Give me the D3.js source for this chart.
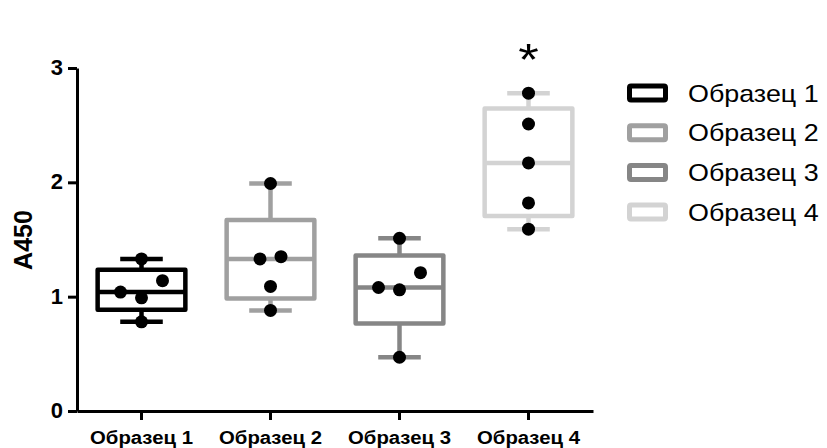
<!DOCTYPE html>
<html>
<head>
<meta charset="utf-8">
<script src="https://cdn.jsdelivr.net/npm/d3@7"></script>
<style>
  body { margin: 0; background: #fff; }
  text { font-family: "Liberation Sans", Arial, sans-serif; }
</style>
</head>
<body>
<div id="chart"></div>
<script>
const categories = ['Образец 1', 'Образец 2', 'Образец 3', 'Образец 4'];
const sample1 = [1.33, 1.04, 0.99, 1.14, 0.78];
const sample2 = [1.99, 1.33, 1.35, 1.09, 0.88];
const sample3 = [1.51, 1.08, 1.06, 1.21, 0.47];
const sample4 = [2.78, 2.51, 2.17, 1.82, 1.59];
const yTicks = [0, 1, 2, 3];
const significant = [false, false, false, true];
const colors = ['#000000', '#a0a0a0', '#868686', '#d3d3d3'];

const series = [sample1, sample2, sample3, sample4];

const width = 827;
const height = 448;
const margin = { top: 68, right: 234, bottom: 37, left: 77 };

const svg = d3.select('#chart')
  .append('svg')
  .attr('width', width)
  .attr('height', height);

const x = d3.scaleBand()
  .domain(categories)
  .range([margin.left, width - margin.right]);

const y = d3.scaleLinear()
  .domain([0, 3])
  .range([height - margin.bottom, margin.top]);

// quartiles the way Prism does it: position (n + 1) * p
function quart(values, p) {
  const s = values.slice().sort(d3.ascending);
  const pos = (s.length + 1) * p - 1;
  const lo = Math.floor(pos);
  const hi = Math.ceil(pos);
  return s[lo] + (s[hi] - s[lo]) * (pos - lo);
}

const stats = series.map((vals, i) => ({
  name: categories[i],
  color: colors[i],
  min: d3.min(vals),
  q1: quart(vals, 0.25),
  median: quart(vals, 0.5),
  q3: quart(vals, 0.75),
  max: d3.max(vals),
  vals,
}));

const boxW = x.bandwidth() * 0.68;
const capW = x.bandwidth() * 0.33;
const r = 6.5;
const slot = 21;

// spread points that sit close together, like a scatter dot plot
function spread(vals) {
  const s = vals.slice().sort(d3.ascending);
  const groups = [];
  s.forEach((v, i) => {
    if (i > 0 && y(s[i - 1]) - y(v) < 20) groups[groups.length - 1].push(v);
    else groups.push([v]);
  });
  const out = [];
  groups.forEach(g => {
    const n = g.length;
    const offs = d3.range(n).map(k => k - (n - 1) / 2)
      .sort((a, b) => Math.abs(a) - Math.abs(b) || a - b);
    g.forEach((v, k) => out.push({ v, dx: offs[k] * slot }));
  });
  return out;
}

const boxes = svg.selectAll('g.box')
  .data(stats)
  .enter().append('g')
  .attr('class', 'box')
  .attr('transform', d => `translate(${x(d.name) + x.bandwidth() / 2},0)`)
  .style('stroke', d => d.color)
  .style('stroke-width', 4.5)
  .style('stroke-linejoin', 'round')
  .style('fill', 'none');

boxes.append('line')
  .attr('y1', d => y(d.max)).attr('y2', d => y(d.q3));
boxes.append('line')
  .attr('y1', d => y(d.q1)).attr('y2', d => y(d.min));
boxes.append('line')
  .attr('x1', -capW / 2).attr('x2', capW / 2)
  .attr('y1', d => y(d.max)).attr('y2', d => y(d.max));
boxes.append('line')
  .attr('x1', -capW / 2).attr('x2', capW / 2)
  .attr('y1', d => y(d.min)).attr('y2', d => y(d.min));
boxes.append('rect')
  .attr('x', -boxW / 2)
  .attr('width', boxW)
  .attr('y', d => y(d.q3))
  .attr('height', d => y(d.q1) - y(d.q3));
boxes.append('line')
  .attr('x1', -boxW / 2).attr('x2', boxW / 2)
  .attr('y1', d => y(d.median)).attr('y2', d => y(d.median));

boxes.selectAll('circle')
  .data(d => spread(d.vals))
  .enter().append('circle')
  .attr('cx', d => d.dx)
  .attr('cy', d => y(d.v))
  .attr('r', r)
  .style('fill', '#000')
  .style('stroke', 'none');

// significance marks
svg.selectAll('text.star')
  .data(stats.filter((d, i) => significant[i]))
  .enter().append('text')
  .attr('class', 'star')
  .attr('transform', d => `translate(${x(d.name) + x.bandwidth() / 2},75) scale(1.2,1)`)
  .attr('text-anchor', 'middle')
  .style('font-size', '44px')
  .text('*');

// axes
const yAxis = svg.append('g')
  .attr('transform', `translate(${margin.left},0)`)
  .call(d3.axisLeft(y).tickValues(yTicks).tickFormat(d3.format('d')).tickSize(9).tickSizeOuter(0));

const xAxis = svg.append('g')
  .attr('transform', `translate(0,${height - margin.bottom})`)
  .call(d3.axisBottom(x).tickSize(9).tickSizeOuter(0));

[yAxis, xAxis].forEach(a => {
  a.select('.domain').style('stroke', '#000').style('stroke-width', 3);
  a.selectAll('.tick line').style('stroke', '#000').style('stroke-width', 3);
});

yAxis.selectAll('.tick text')
  .attr('x', -14)
  .attr('dy', '0.3em')
  .style('font-size', '22px')
  .style('font-weight', 'bold')
  .style('fill', '#000');

xAxis.selectAll('.tick text')
  .attr('y', null)
  .attr('dy', null)
  .attr('transform', 'translate(0,33) scale(1.13,1)')
  .style('font-size', '18px')
  .style('font-weight', 'bold')
  .style('fill', '#000');

svg.append('text')
  .attr('transform', 'translate(32,240) rotate(-90)')
  .attr('text-anchor', 'middle')
  .style('font-size', '25px')
  .style('font-weight', 'bold')
  .text('A450');

// legend
const legend = svg.selectAll('g.legend')
  .data(stats)
  .enter().append('g')
  .attr('class', 'legend')
  .attr('transform', (d, i) => `translate(627,${93 + i * 39.7})`);

legend.append('rect')
  .attr('x', 2.5)
  .attr('y', -7)
  .attr('width', 36)
  .attr('height', 14)
  .attr('rx', 1.5)
  .style('fill', 'none')
  .style('stroke', d => d.color)
  .style('stroke-width', 5);

legend.append('text')
  .attr('transform', 'translate(61,8.5) scale(1.12,1)')
  .style('font-size', '24px')
  .text(d => d.name);
</script>
</body>
</html>
